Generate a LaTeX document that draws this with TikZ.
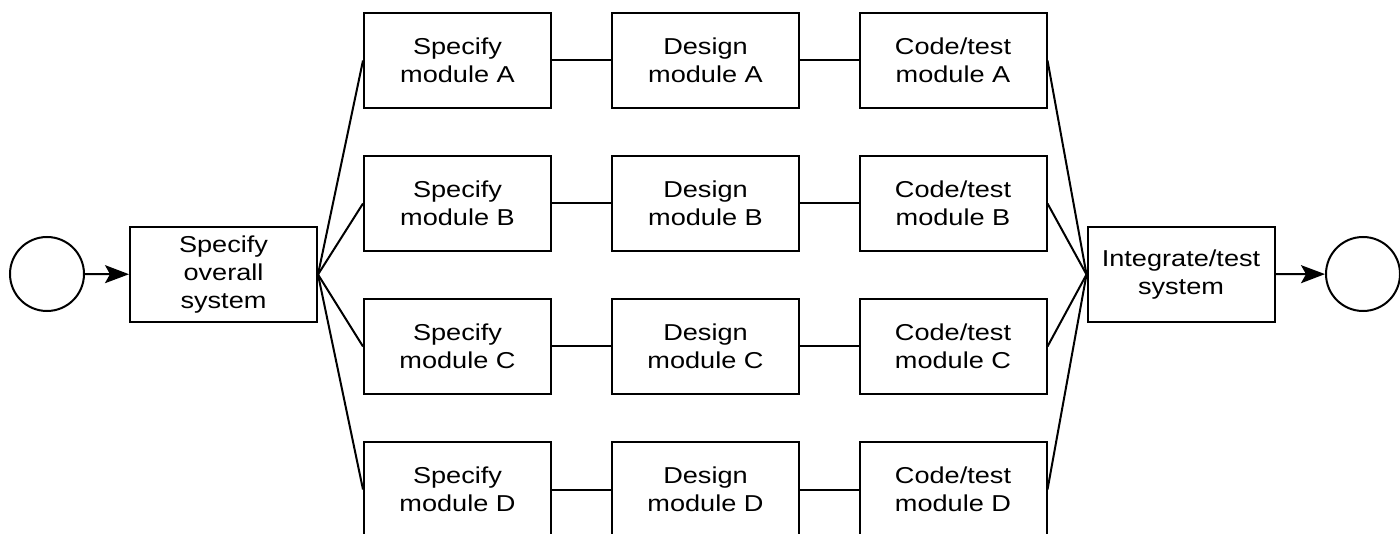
\documentclass[tikz,border=0pt]{standalone}
\usepackage{fontspec}
\setmainfont[FakeStretch=1.18]{Liberation Sans}
\usetikzlibrary{arrows.meta}

\begin{document}
\begin{tikzpicture}[x=1pt,y=-1pt]
\tikzstyle{block}=[draw,line width=2pt,minimum width=187pt,minimum height=95pt,inner sep=0pt,align=center,font=\fontsize{23}{28}\selectfont]
\tikzstyle{terminal}=[draw,circle,line width=2pt,minimum size=74pt,inner sep=0pt]
\tikzstyle{flow}=[line width=2pt,-{Stealth[length=24pt,width=18pt,inset=5pt]}]
\tikzstyle{link}=[line width=2pt]

\useasboundingbox (0,0) rectangle (1400,534);

\node (start) [terminal] at (47,274) {};
\node (overall) [block] at (223.5,274.5) {Specify\\overall\\system};

\node (specA) [block] at (457.5,60.5) {Specify\\module A};
\node (specB) [block] at (457.5,203.5) {Specify\\module B};
\node (specC) [block] at (457.5,346.5) {Specify\\module C};
\node (specD) [block] at (457.5,489.5) {Specify\\module D};

\node (desA) [block] at (705.5,60.5) {Design\\module A};
\node (desB) [block] at (705.5,203.5) {Design\\module B};
\node (desC) [block] at (705.5,346.5) {Design\\module C};
\node (desD) [block] at (705.5,489.5) {Design\\module D};

\node (codeA) [block] at (953,60.5) {Code/test\\module A};
\node (codeB) [block] at (953,203.5) {Code/test\\module B};
\node (codeC) [block] at (953,346.5) {Code/test\\module C};
\node (codeD) [block] at (953,489.5) {Code/test\\module D};

\node (integ) [block] at (1181,274.5) {Integrate/test\\system};
\node (stop) [terminal] at (1363,274) {};

\draw [flow] (start) -- (overall);
\draw [flow] (integ) -- (stop);

% fan out to the modules
\draw [link] (overall.east) -- (specA.west);
\draw [link] (overall.east) -- (specB.west);
\draw [link] (overall.east) -- (specC.west);
\draw [link] (overall.east) -- (specD.west);

\draw [link] (specA) -- (desA) -- (codeA);
\draw [link] (specB) -- (desB) -- (codeB);
\draw [link] (specC) -- (desC) -- (codeC);
\draw [link] (specD) -- (desD) -- (codeD);

% fan in to integration
\draw [link] (codeA.east) -- (integ.west);
\draw [link] (codeB.east) -- (integ.west);
\draw [link] (codeC.east) -- (integ.west);
\draw [link] (codeD.east) -- (integ.west);

\end{tikzpicture}
\end{document}
